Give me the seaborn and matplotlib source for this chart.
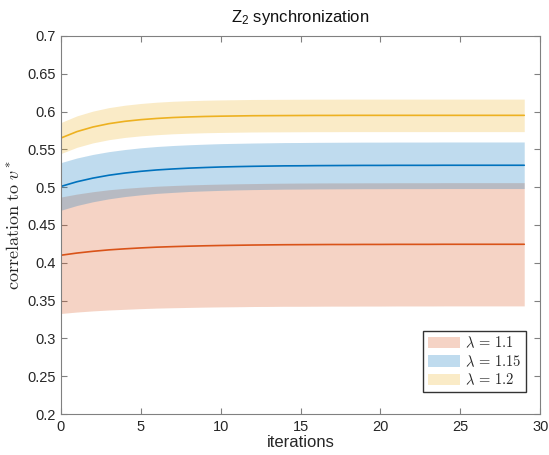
import pandas as pd
import seaborn as sns
import matplotlib.pyplot as plt
from matplotlib.patches import Patch
from matplotlib.ticker import FuncFormatter

# values
iterations = list(range(30))
lambdas = ["1.1", "1.15", "1.2"]

mean_11 = [0.4100, 0.4129, 0.4152, 0.4171, 0.4185, 0.4197, 0.4207, 0.4214, 0.4220, 0.4225,
           0.4229, 0.4232, 0.4235, 0.4237, 0.4239, 0.4240, 0.4241, 0.4242, 0.4242, 0.4243,
           0.4243, 0.4244, 0.4244, 0.4244, 0.4245, 0.4245, 0.4245, 0.4245, 0.4245, 0.4245]
std_11 = [0.0770, 0.0780, 0.0788, 0.0795, 0.0800, 0.0803, 0.0806, 0.0808, 0.0810, 0.0811,
          0.0812, 0.0813, 0.0813, 0.0814, 0.0814, 0.0815, 0.0815, 0.0815, 0.0815, 0.0815,
          0.0815, 0.0815, 0.0815, 0.0815, 0.0815, 0.0815, 0.0815, 0.0815, 0.0815, 0.0815]

mean_115 = [0.5010, 0.5072, 0.5120, 0.5158, 0.5187, 0.5210, 0.5228, 0.5241, 0.5252, 0.5260,
            0.5267, 0.5272, 0.5276, 0.5279, 0.5282, 0.5283, 0.5285, 0.5286, 0.5287, 0.5288,
            0.5288, 0.5289, 0.5289, 0.5289, 0.5290, 0.5290, 0.5290, 0.5290, 0.5290, 0.5290]
std_115 = [0.0315, 0.0314, 0.0313, 0.0312, 0.0311, 0.0311, 0.0310, 0.0310, 0.0309, 0.0309,
           0.0309, 0.0308, 0.0308, 0.0308, 0.0308, 0.0308, 0.0308, 0.0308, 0.0308, 0.0308,
           0.0308, 0.0308, 0.0308, 0.0308, 0.0308, 0.0308, 0.0308, 0.0308, 0.0308, 0.0308]

mean_12 = [0.5650, 0.5735, 0.5796, 0.5840, 0.5871, 0.5893, 0.5909, 0.5921, 0.5929, 0.5935,
           0.5939, 0.5942, 0.5945, 0.5946, 0.5947, 0.5948, 0.5949, 0.5949, 0.5950, 0.5950,
           0.5950, 0.5950, 0.5950, 0.5950, 0.5950, 0.5950, 0.5950, 0.5950, 0.5950, 0.5950]
std_12 = [0.0205, 0.0208, 0.0210, 0.0212, 0.0213, 0.0214, 0.0215, 0.0215, 0.0215, 0.0215,
          0.0215, 0.0215, 0.0215, 0.0215, 0.0215, 0.0215, 0.0215, 0.0215, 0.0215, 0.0215,
          0.0215, 0.0215, 0.0215, 0.0215, 0.0215, 0.0215, 0.0215, 0.0215, 0.0215, 0.0215]

means = [mean_11, mean_115, mean_12]
stds = [std_11, std_115, std_12]
colors = ["#D95319", "#0072BD", "#EDB120"]  # MATLAB default order

# long table for seaborn
rows = []
for lam, m, s in zip(lambdas, means, stds):
    for it, mv, sv in zip(iterations, m, s):
        rows.append({"iteration": it, "mean": mv, "std": sv, "lambda": lam})
df = pd.DataFrame(rows)

sns.set_theme(style="white")
plt.rcParams["font.family"] = ["Liberation Sans", "DejaVu Sans"]
plt.rcParams["mathtext.fontset"] = "cm"
plt.rcParams["mathtext.rm"] = "Liberation Sans"
plt.rcParams["mathtext.it"] = "Liberation Sans:italic"

fig = plt.figure(figsize=(5.49, 4.55), dpi=100)
ax = fig.add_axes([0.111, 0.090, 0.873, 0.831])

# shaded mean +/- std bands
for lam, col in zip(lambdas, colors):
    d = df[df["lambda"] == lam]
    ax.fill_between(d["iteration"], d["mean"] - d["std"], d["mean"] + d["std"],
                    color=col, alpha=0.25, linewidth=0)

sns.lineplot(data=df, x="iteration", y="mean", hue="lambda",
             palette=dict(zip(lambdas, colors)), linewidth=1.2,
             legend=False, ax=ax)

ax.set_xlim(0, 30)
ax.set_ylim(0.2, 0.7)
ax.set_xticks(range(0, 31, 5))
ax.set_yticks([0.2 + 0.05 * i for i in range(11)])
ax.yaxis.set_major_formatter(FuncFormatter(lambda v, p: f"{v:g}"))

for sp in ax.spines.values():
    sp.set_color("#808080")
    sp.set_linewidth(0.8)
ax.tick_params(direction="in", length=4, width=0.8, color="#808080",
               labelcolor="#262626", labelsize=10.5, top=True, right=True,
               bottom=True, left=True, pad=4)

ax.set_xlabel("iterations", fontsize=12, color="#262626", labelpad=1)
ax.set_ylabel(r"$\mathrm{correlation\ to\ }v^*$", fontsize=13,
              color="#262626", labelpad=3)
ax.set_title(r"Z$_{\mathrm{2}}$ synchronization", fontsize=12, color="#111111",
             pad=10, math_fontfamily="custom")

handles = [Patch(facecolor=c, alpha=0.25, edgecolor="none") for c in colors]
labels = [rf"$\lambda\,=\,{l}$" for l in lambdas]
leg = ax.legend(handles, labels, loc="lower right",
                bbox_to_anchor=(0.971, 0.059), borderaxespad=0,
                fontsize=10.5, frameon=True, fancybox=False,
                handlelength=2.2, handleheight=0.85, handletextpad=0.4,
                labelspacing=0.2, borderpad=0.3)
leg.get_frame().set_edgecolor("#000000")
leg.get_frame().set_linewidth(1.0)

fig.savefig("out.png", dpi=100)
